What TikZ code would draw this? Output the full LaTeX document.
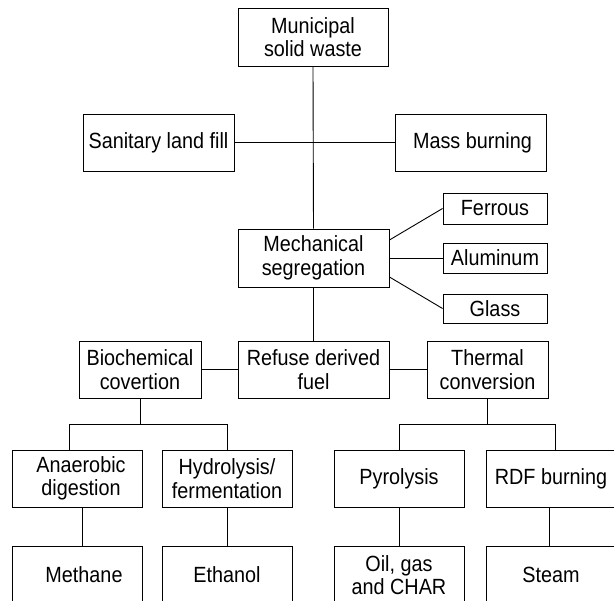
\documentclass[tikz,border=0pt]{standalone}
\usepackage{fontspec}
\setmainfont{Liberation Sans}[FakeStretch=0.9]
\usepackage{tikz}
\usetikzlibrary{calc,positioning}

\tikzset{
    wbox/.style={draw, line width=0.9pt, inner sep=0pt, align=center,
        font=\fontsize{22}{23.5}\selectfont},
    wline/.style={line width=0.9pt}
}

\begin{document}
\begin{tikzpicture}[x=1pt, y=-1pt]
            \useasboundingbox (0,0) rectangle (614,601);
            \node[wbox, minimum width=150pt, minimum height=58pt] (msw) at (313, 37) {Municipal\\solid waste};
            \node[wbox, minimum width=151pt, minimum height=57pt] (slf) at (158.5, 142.5) {Sanitary land fill};
            \node[wbox, minimum width=151pt, minimum height=57pt] (mb) at (470.5, 142.5) {\hspace*{4pt}Mass burning};
            \node[wbox, minimum width=151pt, minimum height=58pt] (ms) at (313.5, 258) {Mechanical\\segregation};
            \node[wbox, minimum width=104pt, minimum height=31pt] (fe) at (495, 208.5) {Ferrous};
            \node[wbox, minimum width=104pt, minimum height=30pt] (al) at (495, 258) {Aluminum};
            \node[wbox, minimum width=104pt, minimum height=29pt] (gl) at (495, 308.5) {Glass};
            \node[wbox, minimum width=122pt, minimum height=57pt] (bio) at (140, 369.5) {Biochemical\\covertion};
            \node[wbox, minimum width=151pt, minimum height=57pt] (rdf) at (313.5, 369.5) {Refuse derived\\fuel};
            \node[wbox, minimum width=121pt, minimum height=57pt] (th) at (487.5, 369.5) {Thermal\\conversion};
            \node[wbox, minimum width=130pt, minimum height=57pt] (an) at (77, 478.5) {\hspace*{8pt}Anaerobic\\\hspace*{8pt}digestion};
            \node[wbox, minimum width=130pt, minimum height=57pt] (hy) at (227, 478.5) {Hydrolysis/\\fermentation};
            \node[wbox, minimum width=130pt, minimum height=57pt] (py) at (399, 478.5) {Pyrolysis};
            \node[wbox, minimum width=130pt, minimum height=57pt] (rb) at (551, 478.5) {RDF burning};
            \node[wbox, minimum width=130pt, minimum height=58pt] (me) at (77, 575) {\hspace*{14pt}Methane};
            \node[wbox, minimum width=130pt, minimum height=58pt] (et) at (227, 575) {Ethanol};
            \node[wbox, minimum width=130pt, minimum height=58pt] (oil) at (399, 575) {Oil, gas\\and CHAR};
            \node[wbox, minimum width=130pt, minimum height=58pt] (st) at (551, 575) {Steam};
            \draw[wline] (msw.south) -- (ms.north);
            \draw[wline] (slf.east) -- (mb.west);
            \draw[wline] ([yshift=18pt]ms.east) -- (fe.west);
            \draw[wline] (ms.east) -- (al.west);
            \draw[wline] ([yshift=-19pt]ms.east) -- (gl.west);
            \draw[wline] (ms.south) -- (rdf.north);
            \draw[wline] (bio.east) -- (rdf.west);
            \draw[wline] (rdf.east) -- (th.west);
            \draw[wline] (bio.south) -- ++(0,26) coordinate (bj);
            \draw[wline] ([xshift=-8pt]an.north) |- (bj) -| (hy.north);
            \draw[wline] (th.south) -- ++(0,26) coordinate (tj);
            \draw[wline] (py.north) |- (tj) -| ([xshift=4pt]rb.north);
            \draw[wline] ([xshift=5pt]an.south) -- ([xshift=5pt]me.north);
            \draw[wline] (hy.south) -- (et.north);
            \draw[wline] (py.south) -- (oil.north);
            \draw[wline] ([xshift=-2pt]rb.south) -- ([xshift=-2pt]st.north);
        \end{tikzpicture}
\end{document}
